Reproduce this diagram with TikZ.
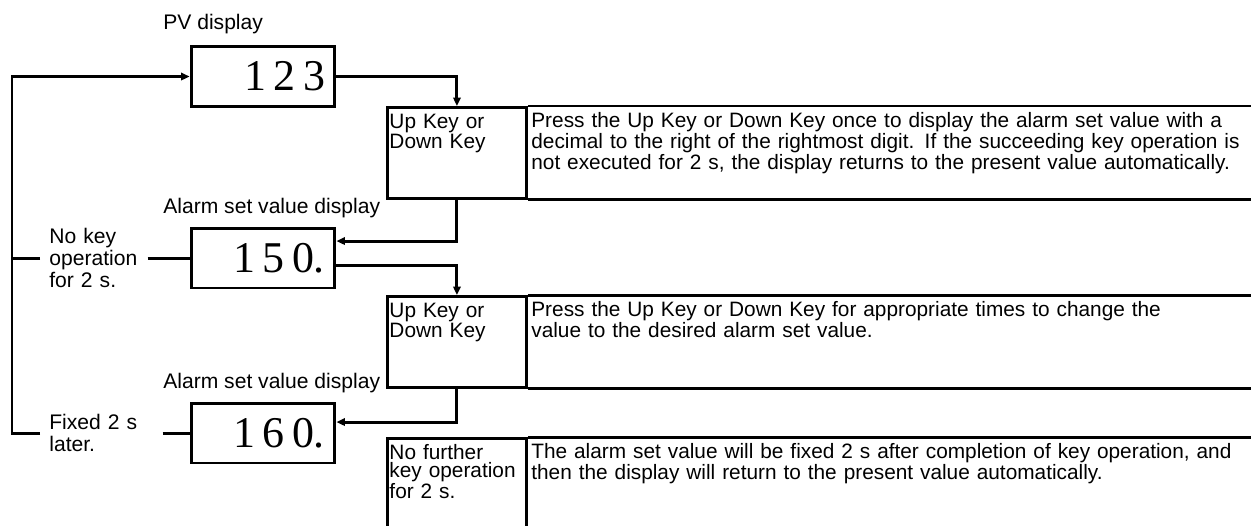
\documentclass[tikz,border=0pt]{standalone}
\usepackage{fontspec}
\setmainfont{Liberation Sans}
\newfontfamily\digitfont{Liberation Serif}
\usetikzlibrary{arrows.meta}

\begin{document}
\begin{tikzpicture}[
			x=0.02cm, y=-0.02cm,
			font=\fontsize{11.85}{10.3}\selectfont,
			>={Triangle[length=0.17cm,width=0.15cm]},
			disp/.style={
				rectangle, draw, line width=1.7pt,
				minimum width=2.88cm, minimum height=1.2cm,
				text width=2.48cm, inner xsep=0.2cm, align=right,
				font=\digitfont\fontsize{25}{25}\selectfont
			},
			keybox/.style={
				rectangle, draw, line width=1.7pt, anchor=north west,
				text width=2.7cm, inner xsep=0.04cm, inner ysep=0pt,
				align=left, text height=0.42cm, text depth=1.4cm
			},
			desc/.style={
				anchor=base west, text width=14.6cm,
				align=left, inner sep=0pt
			},
			lbl/.style={anchor=base west, inner sep=0pt, font=\fontsize{12}{12}\selectfont},
			side/.style={
				anchor=west, inner xsep=0.18cm, align=left,
				font=\fontsize{12}{12.5}\selectfont
			},
			frame/.style={line width=1.7pt},
			conn/.style={line width=1.7pt},
			arr/.style={->, line width=1.7pt}
			]
			
			\useasboundingbox (0, 0) rectangle (1251, 525);
			\clip (0, 0) rectangle (1251, 525);
			\coordinate (redge) at (1262, 0);
			\coordinate (lp) at (12, 76.5);
			
			%% ── Displays ────────────────────────────────────────────────────────
			\node[lbl] (pvlbl) at (163, 29) {PV display};
			\node[disp] (pv) at (263, 76.5) {1\,2\,3};
			
			\node[lbl] (albl1) at (163, 213) {Alarm set value display};
			\node[disp] (a150) at (263, 258) {1\,5\,0.};
			
			\node[lbl] (albl2) at (163, 388) {Alarm set value display};
			\node[disp] (a160) at (263, 433) {1\,6\,0.};
			
			%% ── Key operation boxes ─────────────────────────────────────────────
			\node[keybox] (k1) at (386, 106) {Up Key or\\Down Key};
			\node[desc] (d1) at (531, 127) {
				Press the Up Key or Down Key once to display the alarm set value with a\\
				decimal to the right of the rightmost digit. If the succeeding key operation is\\
				not executed for 2 s, the display returns to the present value automatically.
			};
			\draw[frame] (k1.north east) -- (k1.north east -| redge);
			\draw[frame] (k1.south east) -- (k1.south east -| redge);
			
			\node[keybox] (k2) at (386, 295) {Up Key or\\Down Key};
			\node[desc] (d2) at (531, 316) {
				Press the Up Key or Down Key for appropriate times to change the\\
				value to the desired alarm set value.
			};
			\draw[frame] (k2.north east) -- (k2.north east -| redge);
			\draw[frame] (k2.south east) -- (k2.south east -| redge);
			
			\node[keybox, text depth=2.0cm] (k3) at (386, 437) {No further\\key operation\\for 2 s.};
			\node[desc] (d3) at (531, 458) {
				The alarm set value will be fixed 2 s after completion of key operation, and\\
				then the display will return to the present value automatically.
			};
			\draw[frame] (k3.north east) -- (k3.north east -| redge);
			
			%% ── Flow to the right ───────────────────────────────────────────────
			\draw[arr] (pv.east) -| (k1.north);
			\draw[arr] (k1.south) |- ([yshift=0.34cm]a150.east);
			\draw[arr] ([yshift=-0.14cm]a150.east) -| (k2.north);
			\draw[arr] (k2.south) |- ([yshift=0.22cm]a160.east);
			
			%% ── Return loop on the left ─────────────────────────────────────────
			\node[side, text width=1.78cm] (nokey) at (40, 258) {No key\\operation\\for 2 s.};
			\node[side, text width=2.08cm] (fixed) at (40, 433) {Fixed 2 s\\later.};
			
			\draw[arr] (fixed.west) -| (lp) -- (pv.west);
			\draw[conn] (nokey.west) -- (nokey.west -| lp);
			\draw[conn] (nokey.east) -- (a150.west);
			\draw[conn] (fixed.east) -- (a160.west);
			
		\end{tikzpicture}
\end{document}
